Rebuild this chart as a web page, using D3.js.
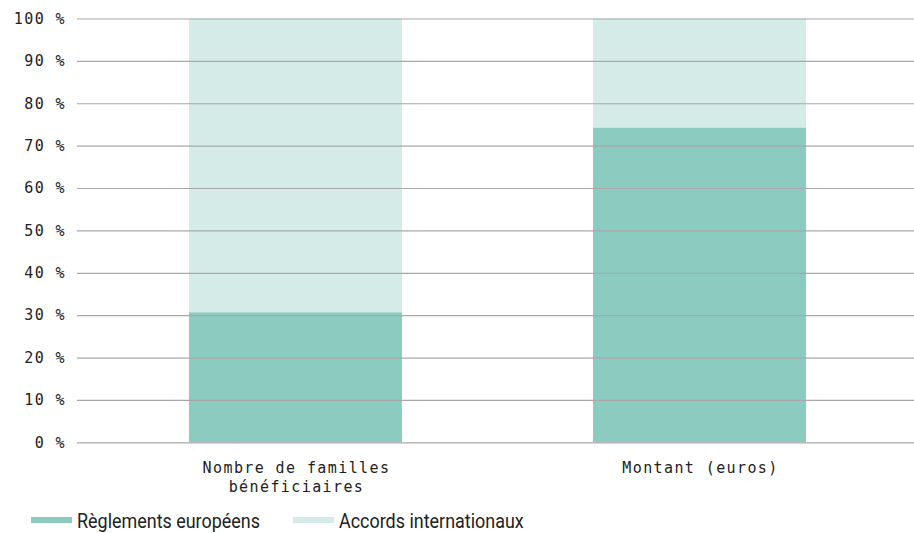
<!DOCTYPE html>
<html>
<head>
<meta charset="utf-8">
<script src="https://cdn.jsdelivr.net/npm/d3@7"></script>
<style>
  body { margin: 0; background: #fff; }
  svg { display: block; }
</style>
</head>
<body>
<div id="chart"></div>
<script>
// Categories (x axis), split on two lines where needed.
const categories = [ 'Nombre de familles bénéficiaires', 'Montant (euros)' ];
const category_lines = [ [ 'Nombre de familles', 'bénéficiaires' ], [ 'Montant (euros)' ] ];

// Series, in percent.
const series_names = [ 'Règlements européens', 'Accords internationaux' ];
const reglements = [ 30.7, 74.3 ];
const accords = [ 69.3, 25.7 ];

const y_ticks = [ 0, 10, 20, 30, 40, 50, 60, 70, 80, 90, 100 ];
const colors = [ '#8ccbc0', '#d5ebe8' ];

const width = 914, height = 533;
const mono = '"DejaVu Sans Mono", "Liberation Mono", monospace';

const svg = d3.select( '#chart' ).append( 'svg' )
  .attr( 'width', width )
  .attr( 'height', height );

const x_scale = d3.scaleBand()
  .domain( categories )
  .range( [ 93.5, 901.5 ] )
  .paddingInner( 0.4728 )
  .paddingOuter( 0.2364 );

const y_scale = d3.scaleLinear()
  .domain( [ 0, 100 ] )
  .range( [ 442.3, 18.5 ] );

// Stack the two series.
const rows = categories.map( function( c, i ){
  return { category: c, reglements: reglements[i], accords: accords[i] };
} );
const stacked = d3.stack().keys( [ 'reglements', 'accords' ] )( rows );

svg.append( 'g' )
  .selectAll( 'g' )
  .data( stacked )
  .enter().append( 'g' )
    .attr( 'fill', function( d, i ){ return colors[i]; } )
  .selectAll( 'rect' )
  .data( function( d ){ return d; } )
  .enter().append( 'rect' )
    .attr( 'x', function( d ){ return x_scale( d.data.category ); } )
    .attr( 'y', function( d ){ return y_scale( d[1] ); } )
    .attr( 'width', x_scale.bandwidth() )
    .attr( 'height', function( d ){ return y_scale( d[0] ) - y_scale( d[1] ); } );

// Y axis with gridlines, drawn over the bars.
const y_axis = svg.append( 'g' )
  .attr( 'transform', 'translate(77,0)' )
  .call( d3.axisLeft( y_scale )
    .tickValues( y_ticks )
    .tickSize( -( width - 77 ) )
    .tickPadding( 11 )
    .tickFormat( function( d ){ return d + ' %'; } ) );
y_axis.select( '.domain' ).remove();
y_axis.selectAll( '.tick line' )
  .attr( 'stroke', '#a8a8a8' )
  .attr( 'stroke-width', 1.2 );
y_axis.selectAll( '.tick text' )
  .attr( 'fill', '#222' )
  .style( 'font-family', mono )
  .style( 'font-size', '15px' )
  .style( 'letter-spacing', '1.4px' );

// X axis labels.
const x_labels = svg.append( 'g' )
  .selectAll( 'text' )
  .data( categories )
  .enter().append( 'text' )
    .attr( 'x', function( d ){ return x_scale( d ) + x_scale.bandwidth() / 2 + 1; } )
    .attr( 'y', 473 )
    .attr( 'text-anchor', 'middle' )
    .attr( 'fill', '#222' )
    .style( 'font-family', mono )
    .style( 'font-size', '15px' )
    .style( 'letter-spacing', '1.4px' );
x_labels.selectAll( 'tspan' )
  .data( function( d, i ){ return category_lines[i]; } )
  .enter().append( 'tspan' )
    .attr( 'x', function(){ return d3.select( this.parentNode ).attr( 'x' ); } )
    .attr( 'dy', function( d, i ){ return i === 0 ? 0 : 19; } )
    .text( function( d ){ return d; } );

// Legend.
const legend_x = [ 31, 293 ];
const legend = svg.append( 'g' )
  .selectAll( 'g' )
  .data( series_names )
  .enter().append( 'g' )
    .attr( 'transform', function( d, i ){ return 'translate(' + legend_x[i] + ',520)'; } );
legend.append( 'rect' )
  .attr( 'x', 0 )
  .attr( 'y', -3 )
  .attr( 'width', 41 )
  .attr( 'height', 6 )
  .attr( 'fill', function( d, i ){ return colors[i]; } );
legend.append( 'text' )
  .attr( 'transform', 'translate(46,8) scale(0.855,1)' )
  .attr( 'fill', '#222' )
  .style( 'font-family', 'Roboto, sans-serif' )
  .style( 'font-size', '21px' )
  .text( function( d ){ return d; } );
</script>
</body>
</html>
